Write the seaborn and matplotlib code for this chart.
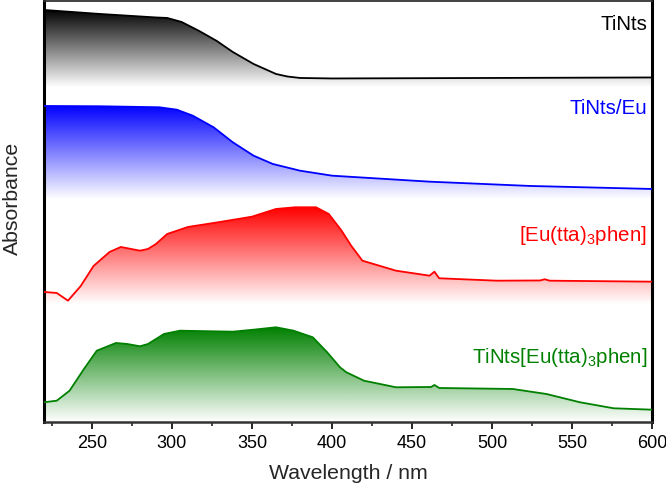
import numpy as np
import seaborn as sns
import matplotlib.pyplot as plt
from matplotlib.colors import LinearSegmentedColormap

# spectra (arbitrary absorbance units, each relative to its own baseline)
wl_tints = [220, 255, 290, 297, 306, 317, 328, 338, 351, 365, 372, 380, 400, 500, 600]
abs_tints = [0.77, 0.73, 0.695, 0.69, 0.65, 0.56, 0.46, 0.35, 0.23, 0.13, 0.105, 0.09, 0.085, 0.09, 0.095]

wl_tints_eu = [220, 255, 292, 303, 313, 326, 338, 351, 363, 380, 400, 461, 524, 600]
abs_tints_eu = [0.93, 0.927, 0.917, 0.893, 0.833, 0.717, 0.567, 0.433, 0.35, 0.283, 0.233, 0.173, 0.13, 0.10]

wl_complex = [220, 228, 235, 243, 251, 261, 268, 280, 285, 290, 297, 310, 330, 350, 365, 377,
              390, 398, 406, 412, 419, 440, 461, 464, 467, 503, 530, 533, 536, 600]
abs_complex = [0.12, 0.11, 0.033, 0.18, 0.38, 0.52, 0.57, 0.533, 0.55, 0.60, 0.70, 0.77, 0.82, 0.873,
               0.95, 0.967, 0.967, 0.90, 0.733, 0.583, 0.433, 0.333, 0.283, 0.323, 0.257, 0.233,
               0.235, 0.247, 0.233, 0.223]

wl_hybrid = [220, 228, 236, 245, 253, 265, 272, 280, 285, 295, 305, 338, 351, 365, 376, 388, 397,
             405, 409, 420, 440, 462, 464, 467, 513, 534, 555, 576, 600]
abs_hybrid = [0.197, 0.213, 0.313, 0.53, 0.713, 0.79, 0.78, 0.757, 0.78, 0.88, 0.913, 0.903, 0.923,
              0.947, 0.913, 0.847, 0.697, 0.547, 0.497, 0.413, 0.347, 0.35, 0.37, 0.34, 0.33, 0.28,
              0.197, 0.137, 0.123]

names = ["TiNts", "TiNts/Eu", "[Eu(tta)$_3$phen]", "TiNts[Eu(tta)$_3$phen]"]
colors = ["black", "#0000ff", "#ff0000", "#008000"]
offsets = [3.35, 2.23, 1.18, 0.0]
label_y = [3.98, 3.14, 1.87, 0.655]

sns.set_style("white")
plt.rcParams["font.family"] = ["Liberation Sans", "DejaVu Sans"]
plt.rcParams["mathtext.fontset"] = "custom"
plt.rcParams["mathtext.rm"] = "Liberation Sans"
plt.rcParams["mathtext.it"] = "Liberation Sans:italic"

fig = plt.figure(figsize=(6.66, 4.89), dpi=100)
ax = fig.add_axes([0.066, 0.135, 0.913, 0.861])

spectra = [(wl_tints, abs_tints), (wl_tints_eu, abs_tints_eu),
           (wl_complex, abs_complex), (wl_hybrid, abs_hybrid)]

for (wl, ab), name, col, off, ly in zip(spectra, names, colors, offsets, label_y):
    wl = np.array(wl, dtype=float)
    y = np.array(ab) + off
    top = y.max()
    # gradient fill under the curve: full colour at the top, white at the baseline
    poly = ax.fill_between(wl, off, y, facecolor="none", edgecolor="none")
    cmap = LinearSegmentedColormap.from_list("g", ["white", col])
    grad = np.linspace(0, 1, 256).reshape(-1, 1)
    im = ax.imshow(grad, extent=[wl[0], wl[-1], off, top], origin="lower",
                   aspect="auto", cmap=cmap, zorder=1)
    im.set_clip_path(poly.get_paths()[0], transform=ax.transData)
    sns.lineplot(x=wl, y=y, color=col, lw=1.3, ax=ax, zorder=3)
    ax.text(597, ly, name, color=col, fontsize=14.8, ha="right", va="center")

ax.set_xlim(220, 600)
ax.set_ylim(0, 4.21)
ax.set_xticks(range(250, 601, 50))
ax.set_xticks(range(225, 601, 25), minor=True)
ax.set_yticks([])
ax.tick_params(axis="x", which="major", direction="out", length=5, width=1.2,
               labelsize=13, pad=4, bottom=True, colors="black")
ax.tick_params(axis="x", which="minor", direction="out", length=3, width=1.2, bottom=True)
ax.set_xlabel("Wavelength / nm", fontsize=15.3, labelpad=8)
ax.set_ylabel("Absorbance", fontsize=15.3)
ax.yaxis.set_label_coords(-0.037, 0.533)

for side, lw in [("left", 2.2), ("right", 2.2), ("top", 1.3), ("bottom", 1.8)]:
    ax.spines[side].set_visible(True)
    ax.spines[side].set_linewidth(lw)
    ax.spines[side].set_color("black" if side in ("left", "right") else "#333333")

fig.savefig("out.png", dpi=100)
